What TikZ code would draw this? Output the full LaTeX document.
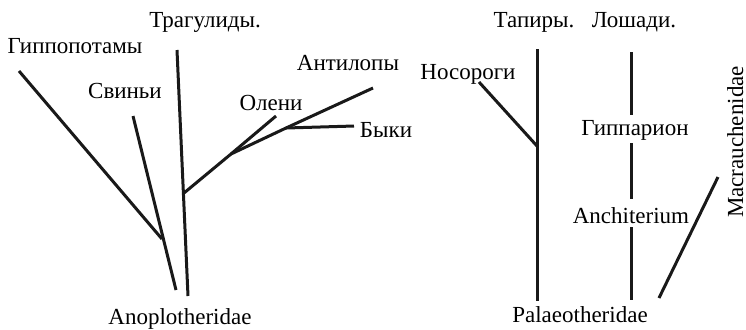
\documentclass[tikz,border=0pt]{standalone}
\usepackage{fontspec}
\setmainfont{Liberation Serif}
\usepackage{tikz}
\usetikzlibrary{positioning}

\begin{document}
\begin{tikzpicture}[
      x=0.5pt, y=-0.5pt,
      font=\fontsize{11.5}{13}\selectfont,
      lbl/.style={inner sep=0pt, anchor=base},
      br/.style={line width=1.5pt, black!90},
    ]
    \useasboundingbox (0,0) rectangle (746,329);

    % ---------- Anoplotheridae ----------
    \node[lbl] (tra) at (205,27) {Трагулиды.};
    \node[lbl] (hip) at (75,53) {Гиппопотамы};
    \node[lbl] (svi) at (125,98) {Свиньи};
    \node[lbl] (ole) at (271,110) {Олени};
    \node[lbl] (ant) at (348,70) {Антилопы};
    \node[lbl] (byk) at (386,137) {Быки};
    \node[lbl] (ano) at (180,324) {Anoplotheridae};

    \coordinate (hip0) at (19,71);
    \coordinate (svi0) at (133,116);
    \coordinate (svi1) at (176,290);
    \coordinate (j1) at (162,239);
    \coordinate (tra0) at (177,50);
    \coordinate (tra1) at (188,296);
    \coordinate (j2) at (184,193);
    \coordinate (j3) at (231,154);
    \coordinate (ole0) at (276,116);
    \coordinate (j4) at (286,128);
    \coordinate (ant0) at (373,88);
    \coordinate (byk0) at (354,126);

    \draw[br] (hip0) -- (j1);
    \draw[br] (svi0) -- (svi1);
    \draw[br] (tra0) -- (tra1);
    \draw[br] (j2) -- (j3) -- (ole0);
    \draw[br] (j3) -- (j4) -- (ant0);
    \draw[br] (j4) -- (byk0);

    % ---------- Palaeotheridae ----------
    \node[lbl] (tap) at (534,27) {Тапиры.};
    \node[lbl] (los) at (634,27) {Лошади.};
    \node[lbl] (nos) at (468,79) {Носороги};
    \node[lbl] (hpp) at (635,135) {Гиппарион};
    \node[lbl] (anc) at (631,223) {Anchiterium};
    \node[lbl, rotate=90] (mac) at (743,142) {Macrauchenidae};
    \node[lbl] (pal) at (580,322) {Palaeotheridae};

    \coordinate (tap0) at (537,49);
    \coordinate (tap1) at (537,301);
    \coordinate (nos0) at (479,82);
    \coordinate (j5) at (537,146);
    \coordinate (hor0) at (631,52);
    \coordinate (hor1) at (631,115);
    \coordinate (hor2) at (631,143);
    \coordinate (hor3) at (631,199);
    \coordinate (hor4) at (631,227);
    \coordinate (hor5) at (631,300);
    \coordinate (mac0) at (718,177);
    \coordinate (mac1) at (659,298);

    \draw[br] (tap0) -- (tap1);
    \draw[br] (nos0) -- (j5);
    \draw[br] (hor0) -- (hor1);
    \draw[br] (hor2) -- (hor3);
    \draw[br] (hor4) -- (hor5);
    \draw[br] (mac0) -- (mac1);

  \end{tikzpicture}
\end{document}
